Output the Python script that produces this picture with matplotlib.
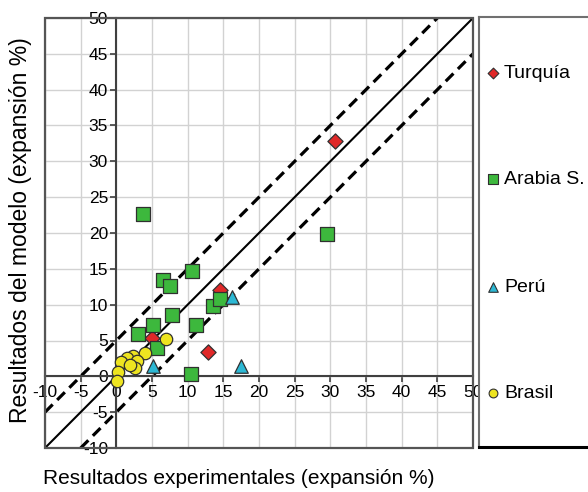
import matplotlib.pyplot as plt
from matplotlib.patches import Rectangle

plt.rcParams['font.family'] = ['Liberation Sans', 'DejaVu Sans']

turquia_x = [30.7, 14.6, 12.9, 5.0]
turquia_y = [32.9, 12.0, 3.4, 5.4]

arabia_x = [10.6, 6.6, 7.5, 7.8, 5.2, 3.1, 11.2, 5.7, 13.6, 14.6, 10.4, 3.7, 29.5]
arabia_y = [14.7, 13.5, 12.6, 8.5, 7.1, 5.9, 7.2, 4.0, 9.8, 10.8, 0.3, 22.6, 19.9]

peru_x = [16.2, 5.1, 17.5]
peru_y = [11.1, 1.4, 1.4]

brasil_x = [6.9, 4.0, 2.4, 1.5, 0.7, 2.9, 2.6, 0.3, 0.1, 1.9]
brasil_y = [5.2, 3.3, 2.8, 2.5, 2.0, 2.1, 1.1, 0.6, -0.7, 1.6]

series = [
    ("Turquía", turquia_x, turquia_y, "D", "#e02828", 60),
    ("Arabia S.", arabia_x, arabia_y, "s", "#3db83d", 100),
    ("Perú", peru_x, peru_y, "^", "#2cb8d4", 95),
    ("Brasil", brasil_x, brasil_y, "o", "#eee420", 80),
]

lims = [-10, 50]
band = 5
ticks = list(range(-10, 51, 5))

W, H = 588, 492
fig = plt.figure(figsize=(W / 100, H / 100), dpi=100)
ax = fig.add_axes([45 / W, 1 - 448 / H, (473 - 45) / W, (448 - 18) / H])

ax.set_xlim(lims)
ax.set_ylim(lims)
ax.set_xticks(ticks)
ax.set_yticks(ticks)
ax.set_xticklabels([str(t) for t in ticks])
ax.set_yticklabels([str(t) for t in ticks])
ax.tick_params(labelsize=12.5, length=4, width=1.2, color="#404040", pad=2)
ax.grid(True, color="#d2d2d2", lw=1.0, zorder=0)
ax.set_axisbelow(True)

for s in ["left", "bottom"]:
    ax.spines[s].set_position(("data", 0))
    ax.spines[s].set_color("#404040")
    ax.spines[s].set_linewidth(1.5)
for s in ["top", "right"]:
    ax.spines[s].set_visible(False)
ax.add_patch(Rectangle((0, 0), 1, 1, transform=ax.transAxes, fill=False,
                       ec="#555555", lw=1.6, zorder=5, clip_on=False))

# 1:1 line and +/-5 band
ax.plot(lims, lims, color="black", lw=1.5, zorder=2)
ax.plot([lims[0], lims[1] - band], [lims[0] + band, lims[1]], color="black",
        lw=2.3, ls=(0, (3.4, 2.0)), zorder=2)
ax.plot([lims[0] + band, lims[1]], [lims[0], lims[1] - band], color="black",
        lw=2.3, ls=(0, (3.4, 2.0)), zorder=2)

for i, (name, xs, ys, m, c, sz) in enumerate(series):
    ax.scatter(xs, ys, marker=m, s=sz, c=c, edgecolors="#303030",
               linewidths=0.9, zorder=3 + i * 0.1, clip_on=False)

fig.text(21 / W, 0.5 * ((H - 33) + (H - 427)) / H,
         "Resultados del modelo (expansión %)", rotation=90,
         ha="center", va="center", fontsize=16.5)
fig.text(239 / W, (H - 478) / H, "Resultados experimentales (expansión %)",
         ha="center", va="center", fontsize=15)

# legend box, cut by the right border like in the original
lax = fig.add_axes([479 / W, 1 - 447 / H, 140 / W, (447 - 17) / H])
lax.set_xlim(0, 140)
lax.set_ylim(447, 17)
lax.set_xticks([])
lax.set_yticks([])
for s in lax.spines.values():
    s.set_color("#707070")
    s.set_linewidth(1.5)
lax.spines["bottom"].set_color("black")
lax.spines["bottom"].set_linewidth(2.2)

row_y = [73, 179, 287, 393]
for (name, xs, ys, m, c, sz), yy in zip(series, row_y):
    lax.scatter([14], [yy], marker=m, s=sz * 0.5, c=c, edgecolors="#303030",
                linewidths=0.8)
    lax.text(25, yy, name, fontsize=14, va="center", ha="left")

fig.savefig("out.png", dpi=100)
